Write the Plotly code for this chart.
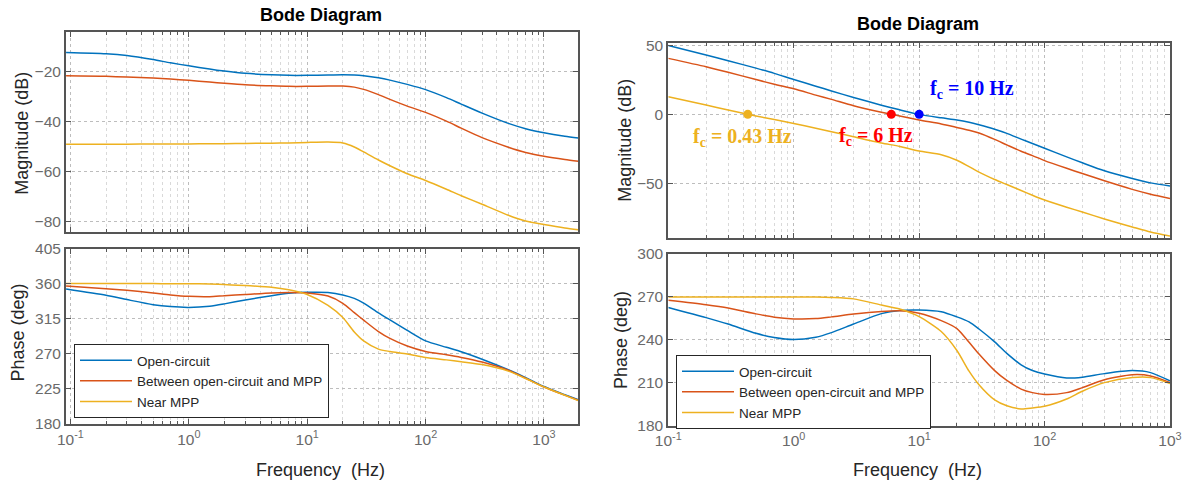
import plotly.graph_objects as go

# ---------------- data ----------------
series_names = ["Open-circuit", "Between open-circuit and MPP", "Near MPP"]
series_colors = ["#0072BD", "#D95319", "#EDB120"]

# Left Bode diagram
freq_left = [0.092, 0.2, 0.3, 0.5, 0.7, 1, 1.5, 2, 3, 5, 7, 10, 15, 20, 25, 30,
             40, 50, 70, 100, 150, 200, 300, 500, 700, 1000, 1500, 1950]
mag_left_oc = [-12.6, -13.1, -13.8, -15.4, -16.7, -17.9, -19.2, -20.0, -20.9, -21.5,
               -21.7, -21.7, -21.6, -21.5, -21.6, -21.9, -22.7, -23.6, -25.3, -27.4,
               -30.6, -33.2, -36.8, -40.9, -43.0, -44.6, -46.0, -46.7]
mag_left_mid = [-21.9, -22.1, -22.4, -22.8, -23.2, -23.7, -24.4, -24.9, -25.5, -25.9,
                -26.1, -26.1, -26.0, -26.0, -26.4, -27.3, -29.4, -31.3, -34.0, -36.5,
                -40.0, -42.8, -46.6, -50.4, -52.5, -54.0, -55.3, -56.0]
mag_left_mpp = [-49.2, -49.2, -49.2, -49.1, -49.1, -49.1, -49.0, -49.0, -48.9, -48.8,
                -48.7, -48.5, -48.35, -48.7, -50.3, -52.3, -55.5, -57.8, -61.0, -63.7,
                -67.2, -69.8, -73.2, -77.6, -79.9, -81.3, -82.7, -83.4]
phase_left_oc = [353, 345, 339.5, 333, 330.5, 329.5, 331, 334, 339, 344.5,
                 347.5, 348.8, 348.5, 345.5, 341, 335, 322.5, 313.5, 300, 286.5,
                 278.3, 272.6, 263, 249.5, 239.5, 228, 217.5, 211]
phase_left_mid = [357, 353.5, 351.4, 348, 345.5, 343.7, 343.3, 344.5, 346, 348,
                  348.5, 348, 344, 334.7, 322.7, 313.1, 298.5, 289.7, 280, 273,
                  268.8, 265.4, 259.5, 249, 238.6, 227.5, 217, 210.5]
phase_left_mpp = [360, 360, 360, 360, 359.9, 359.8, 359.5, 359, 357.5, 355.3,
                  352, 346, 332, 316.5, 298, 286.5, 276, 273, 269.8, 265.2,
                  262.2, 259.9, 256.2, 247.8, 238.3, 227.5, 216.8, 210]

# Right Bode diagram
freq_right = [0.1, 0.2, 0.3, 0.5, 0.7, 1, 1.5, 2, 3, 5, 7, 10, 15, 20, 25, 30,
              40, 50, 65, 80, 100, 150, 200, 300, 500, 700, 1000]
mag_right_oc = [50.0, 43.2, 39.0, 33.6, 29.8, 25.3, 20.5, 17.0, 12.3, 6.7,
                3.3, 0.0, -2.5, -4.1, -5.8, -7.6, -10.8, -13.8, -18.0, -21.2,
                -24.6, -30.9, -35.2, -41.0, -46.6, -49.8, -52.0]
mag_right_mid = [40.7, 34.6, 30.6, 25.3, 21.9, 18.6, 14.0, 10.9, 6.3, 1.6,
                 -1.2, -4.1, -7.0, -9.5, -11.5, -13.6, -18.2, -22.2, -26.8, -30.0,
                 -33.6, -39.2, -43.0, -48.3, -54.5, -58.0, -61.1]
mag_right_mpp = [12.8, 6.8, 3.2, -1.2, -3.8, -6.6, -10.1, -12.6, -16.3, -20.8,
                 -23.3, -26.7, -29.3, -33.3, -38.0, -42.0, -47.3, -51.0, -55.3, -58.8,
                 -62.3, -67.5, -71.0, -76.0, -81.8, -85.5, -88.5]
phase_right_oc = [262.6, 255.5, 251, 244.5, 241.5, 240.1, 241.8, 245, 251, 258.3,
                  260.5, 260.8, 259.6, 256, 252.5, 247.5, 238.5, 230.5, 222.5, 218.5,
                  216, 213.2, 213.8, 216.3, 218.4, 217, 211.2]
phase_right_mid = [267.6, 264.5, 262.2, 258.1, 255.8, 254.6, 254.8, 256, 258, 259.8,
                   260.3, 258.6, 253.4, 247.8, 238.2, 230, 218.4, 211.5, 205.5, 203,
                   201.7, 203, 206.5, 212, 215.5, 214.7, 210]
phase_right_mpp = [270, 270, 270, 270, 270, 270, 269.9, 269.6, 268.6, 264.3,
                   261.5, 256.2, 245.8, 232.5, 218, 208.5, 197.9, 193.8, 191.6, 192.3,
                   193.4, 198.5, 204, 210, 213.5, 213.5, 209.3]

# crossover frequencies (Open-circuit, Between, Near MPP)
fc_freq = [10, 6, 0.43]
fc_mag = [0, 0, 0]
fc_labels = ["f<sub>c</sub> = 10 Hz", "f<sub>c</sub> = 6 Hz", "f<sub>c</sub> = 0.43 Hz"]
fc_colors = ["#0000FF", "#FF0000", "#EDB120"]

# tick labels
x_tick_vals = [0.1, 1, 10, 100, 1000]
x_tick_text = ["10<sup>-1</sup>", "10<sup>0</sup>", "10<sup>1</sup>", "10<sup>2</sup>", "10<sup>3</sup>"]
mag_left_ticks = [-80, -60, -40, -20]
phase_left_ticks = [180, 225, 270, 315, 360, 405]
mag_right_ticks = [-50, 0, 50]
phase_right_ticks = [180, 210, 240, 270, 300]

# ---------------- figure ----------------
W, H = 1188, 486
FONT = "Liberation Sans, Arial, Helvetica, sans-serif"
AX = "#555555"
TICKC = "#6a6a6a"
TXT = "#262626"

minor_vals = [k * 10 ** e for e in range(-2, 4) for k in range(2, 10)]

fig = go.Figure()


def add_set(freq, ys, xa, ya, legend, showlegend):
    for name, col, y in zip(series_names, series_colors, ys):
        fig.add_trace(go.Scatter(
            x=freq, y=y, mode="lines", name=name,
            line=dict(color=col, width=1.5, shape="spline", smoothing=0.7),
            xaxis=xa, yaxis=ya, legend=legend, showlegend=showlegend,
            hoverinfo="skip"))


add_set(freq_left, [mag_left_oc, mag_left_mid, mag_left_mpp], "x", "y", "legend", False)
add_set(freq_left, [phase_left_oc, phase_left_mid, phase_left_mpp], "x2", "y2", "legend", True)
add_set(freq_right, [mag_right_oc, mag_right_mid, mag_right_mpp], "x3", "y3", "legend2", False)
add_set(freq_right, [phase_right_oc, phase_right_mid, phase_right_mpp], "x4", "y4", "legend2", True)

fig.add_trace(go.Scatter(
    x=fc_freq, y=fc_mag, mode="markers",
    marker=dict(color=fc_colors, size=9, line=dict(width=0)),
    xaxis="x3", yaxis="y3", showlegend=False, hoverinfo="skip"))


def xaxis(domain, rng, labels, anchor):
    return dict(
        type="log", domain=domain, range=rng, anchor=anchor, automargin=False,
        tickmode="array", tickvals=x_tick_vals,
        ticktext=x_tick_text if labels else [""] * len(x_tick_vals),
        showticklabels=labels,
        ticks="inside", ticklen=5, tickwidth=1.2, tickcolor=AX,
        showline=True, linecolor=AX, linewidth=2, mirror="allticks",
        showgrid=True, gridcolor="#bdbdbd", gridwidth=1.4, griddash="dot",
        minor=dict(tickmode="array", tickvals=minor_vals, ticks="inside",
                   ticklen=3, tickcolor=AX, showgrid=True,
                   gridcolor="#d9d9d9", gridwidth=1, griddash="dot"),
        tickfont=dict(family=FONT, size=15.5, color=TICKC),
        zeroline=False, fixedrange=True,
    )


def yaxis(domain, rng, ticks, anchor):
    return dict(
        domain=domain, range=rng, anchor=anchor, automargin=False,
        tickmode="array", tickvals=ticks,
        ticks="inside", ticklen=5, tickwidth=1.2, tickcolor=AX,
        showline=True, linecolor=AX, linewidth=2, mirror="allticks",
        showgrid=True, gridcolor="#bdbdbd", gridwidth=1.4, griddash="dot",
        tickfont=dict(family=FONT, size=15.5, color=TICKC),
        zeroline=False, fixedrange=True,
    )


def px_x(p):
    return p / W


def px_y(p):
    return 1 - p / H


left_dom = [px_x(66), px_x(578.3)]
right_dom = [px_x(668.3), px_x(1170)]

legend_style = dict(xanchor="left", yanchor="top",
                    bgcolor="white", bordercolor="#262626", borderwidth=1,
                    font=dict(family=FONT, size=13.5, color=TXT),
                    itemwidth=52, tracegroupgap=0,
                    entrywidth=200, entrywidthmode="pixels")

fig.update_layout(
    width=W, height=H,
    margin=dict(l=0, r=0, t=0, b=0, autoexpand=False),
    paper_bgcolor="white", plot_bgcolor="white",
    font=dict(family=FONT, color=TXT),
    xaxis=xaxis(left_dom, [-1.037, 3.29], False, "y"),
    yaxis=yaxis([px_y(232.3), px_y(32.3)], [-84.4, -4.5], mag_left_ticks, "x"),
    xaxis2=xaxis(left_dom, [-1.037, 3.29], True, "y2"),
    yaxis2=yaxis([px_y(424), px_y(248.5)], [180, 405], phase_left_ticks, "x2"),
    xaxis3=xaxis(right_dom, [-1, 3], False, "y3"),
    yaxis3=yaxis([px_y(237.5), px_y(42.7)], [-89.5, 52.1], mag_right_ticks, "x3"),
    xaxis4=xaxis(right_dom, [-1, 3], True, "y4"),
    yaxis4=yaxis([px_y(425.5), px_y(254)], [180, 300], phase_right_ticks, "x4"),
    legend=dict(x=px_x(74), y=px_y(344), **legend_style),
    legend2=dict(x=px_x(676), y=px_y(355), **legend_style),
)

ann = []
# titles
for cx, cy in [(320.8, 15), (917.5, 24)]:
    ann.append(dict(text="<b>Bode Diagram</b>", x=px_x(cx), y=px_y(cy), xref="paper", yref="paper",
                    xanchor="center", yanchor="middle", showarrow=False,
                    font=dict(family=FONT, size=18, color="#000000")))
# x labels
for cx in [320.5, 917.5]:
    ann.append(dict(text="Frequency\u00a0 (Hz)", x=px_x(cx), y=px_y(470), xref="paper", yref="paper",
                    xanchor="center", yanchor="middle", showarrow=False,
                    font=dict(family=FONT, size=18, color=TXT)))
# y labels
for txt, cx, cy in [("Magnitude (dB)", 21.7, 133), ("Phase (deg)", 17.5, 333),
                    ("Magnitude (dB)", 624.7, 140), ("Phase (deg)", 621, 340)]:
    ann.append(dict(text=txt, x=px_x(cx), y=px_y(cy), xref="paper", yref="paper",
                    xanchor="center", yanchor="middle", showarrow=False, textangle=-90,
                    font=dict(family=FONT, size=18, color=TXT)))
# crossover labels
for txt, col, lx, cy in zip(fc_labels, fc_colors, [927.5, 836.5, 691], [90, 136, 137.5]):
    ann.append(dict(text="<b>" + txt + "</b>", x=px_x(lx), y=px_y(cy), xref="paper", yref="paper",
                    xanchor="left", yanchor="middle", showarrow=False,
                    font=dict(family="Liberation Serif, Times New Roman, serif", size=20, color=col)))

fig.update_layout(annotations=ann)

fig.write_html("out.html")
